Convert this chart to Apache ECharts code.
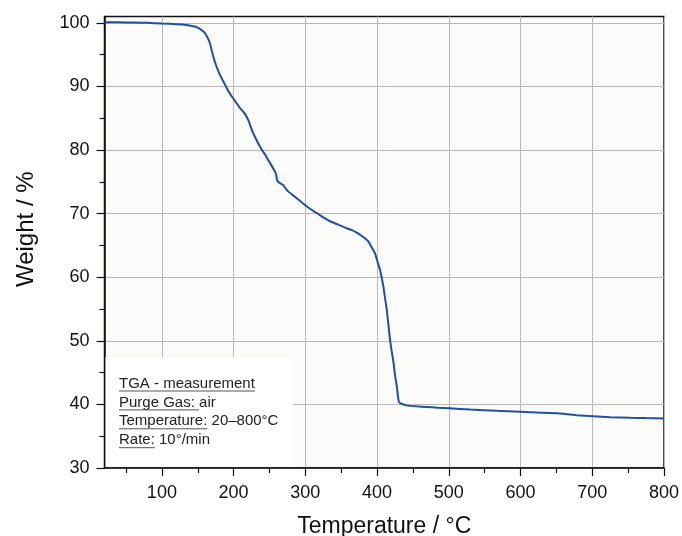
<!DOCTYPE html>
<html>
<head>
<meta charset="utf-8">
<script src="https://cdn.jsdelivr.net/npm/echarts@6/dist/echarts.min.js"></script>
<style>
  html, body { margin: 0; padding: 0; background: #fff; }
  #chart { width: 682px; height: 536px; }
</style>
</head>
<body>
<div id="chart"></div>
<script>
// TGA curve
const temps = [20, 40, 60, 80, 100, 120, 130, 140, 148, 155, 160, 164, 167, 170, 174, 178, 181, 187, 192.5, 199.5,
  209, 215, 220.5, 224, 227, 231, 234, 239, 243.7, 250, 257.7, 259.5, 260.5, 262, 266, 269, 271.6, 276, 285, 297,
  306, 316, 325, 334.4, 345, 357.6, 365, 371.6, 376, 382, 388, 392, 397, 401, 404, 407, 409, 411, 413.5, 416,
  418, 420.5, 423, 425, 427.4, 429.2, 430.6, 434, 441, 455, 469, 485, 501, 530, 567, 599, 630, 650.5, 665, 678,
  701.6, 725, 753, 775, 800]
const weights = [100.1, 100.08, 100.05, 100.0, 99.9, 99.8, 99.75, 99.55, 99.35, 98.9, 98.4, 97.6, 96.8, 95.4, 93.8, 92.6, 91.8, 90.5, 89.3, 88.1,
  86.6, 85.8, 84.7, 83.6, 82.7, 81.8, 81.1, 80.1, 79.3, 78.1, 76.6, 76.0, 75.3, 75.0, 74.7, 74.5, 74.1, 73.5, 72.7, 71.6,
  70.8, 70.1, 69.4, 68.8, 68.3, 67.7, 67.4, 67.0, 66.7, 66.2, 65.6, 64.8, 63.8, 62.3, 61.2, 59.6, 58.4, 56.8, 54.9, 52.3,
  50.2, 48.3, 46.5, 44.6, 42.9, 41.2, 40.35, 40.1, 39.85, 39.7, 39.6, 39.48, 39.38, 39.2, 39.0, 38.85, 38.7, 38.6, 38.45, 38.3,
  38.15, 38.0, 37.9, 37.85, 37.8]

const xMajor = [100, 200, 300, 400, 500, 600, 700, 800]
const xMinor = [50, 150, 250, 350, 450, 550, 650, 750]
const yMajor = [30, 40, 50, 60, 70, 80, 90, 100]
const yMinor = [35, 45, 55, 65, 75, 85, 95]

// [underlined part, plain part]
const notes = [
  ['TGA - measurement', ''],
  ['Purge Gas: ', 'air'],
  ['Temperature:', ' 20\u2013800\u00b0C'],
  ['Rate:', ' 10\u00b0/min']
]

const FONT = '"Liberation Sans", Arial, sans-serif'
const chart = echarts.init(document.getElementById('chart'))

const ctx = document.createElement('canvas').getContext('2d')
ctx.font = '15px ' + FONT

let noteEls = [{
  type: 'rect',
  shape: { x: 105.5, y: 357, width: 187, height: 110 },
  style: { fill: '#ffffff' },
  z: 10
}]
notes.forEach((n, i) => {
  const yMid = 383.5 + i * 18.9
  noteEls.push({
    type: 'text',
    x: 119, y: yMid,
    style: { text: n[0] + n[1], font: '15px ' + FONT, fill: '#222', verticalAlign: 'middle' },
    z: 11
  })
  noteEls.push({
    type: 'line',
    shape: { x1: 119, y1: yMid + 7.5, x2: 119 + ctx.measureText(n[0]).width, y2: yMid + 7.5 },
    style: { stroke: '#555', lineWidth: 1 },
    z: 11
  })
})

const axisText = { color: '#111', fontSize: 18, fontFamily: FONT }

let option = {
  animation: false,
  grid: {
    left: 104.5, right: 18, top: 16.5, bottom: 68,
    outerBoundsMode: 'none', containLabel: false,
    show: true, backgroundColor: '#fbfbf9', borderColor: '#111', borderWidth: 1.5
  },
  xAxis: [
    {
      type: 'value', min: 20, max: 800, position: 'bottom',
      name: 'Temperature / \u00b0C', nameLocation: 'middle', nameGap: 47,
      nameTextStyle: { color: '#111', fontSize: 23, fontFamily: FONT },
      axisLine: { show: true, lineStyle: { color: '#111', width: 1.5 } },
      axisTick: { show: true, length: 8, customValues: xMajor, lineStyle: { color: '#111', width: 1.2 } },
      axisLabel: { customValues: xMajor, margin: 16, ...axisText },
      splitLine: { show: true, lineStyle: { color: '#b8b8b8', width: 1 } }
    },
    {
      type: 'value', min: 20, max: 800, position: 'bottom',
      axisLine: { show: false },
      axisTick: { show: true, length: 5, customValues: xMinor, lineStyle: { color: '#111', width: 1.2 } },
      axisLabel: { show: false },
      splitLine: { show: false }
    }
  ],
  yAxis: [
    {
      type: 'value', min: 30, max: 101, position: 'left',
      name: 'Weight / %', nameLocation: 'middle', nameGap: 66,
      nameTextStyle: { color: '#111', fontSize: 24, fontFamily: FONT, padding: [0, 0, 0, 26] },
      axisLine: { show: true, lineStyle: { color: '#111', width: 1.5 } },
      axisTick: { show: true, length: 8, customValues: yMajor, lineStyle: { color: '#111', width: 1.2 } },
      axisLabel: { customValues: yMajor, margin: 15, ...axisText },
      splitLine: { show: true, lineStyle: { color: '#b8b8b8', width: 1 } }
    },
    {
      type: 'value', min: 30, max: 101, position: 'left',
      axisLine: { show: false },
      axisTick: { show: true, length: 5, customValues: yMinor, lineStyle: { color: '#111', width: 1.2 } },
      axisLabel: { show: false },
      splitLine: { show: false }
    }
  ],
  series: [{
    type: 'line',
    data: temps.map((t, i) => [t, weights[i]]),
    showSymbol: false,
    smooth: 0.15,
    lineStyle: { color: '#1f50a6', width: 2 },
    z: 3
  }],
  graphic: noteEls
}
chart.setOption(option)
</script>
</body>
</html>
